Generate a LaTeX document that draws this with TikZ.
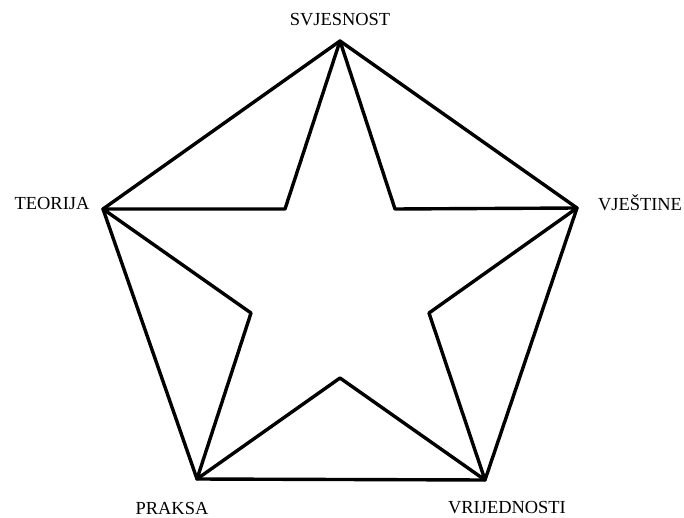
\documentclass[tikz,border=0pt]{standalone}
\usepackage{fontspec}
\setmainfont{Liberation Serif}
\begin{document}
\begin{tikzpicture}[x=1bp,y=-1bp,
  edge/.style={line width=3.4bp,line join=round,line cap=round},
  lbl/.style={font=\fontsize{18.5}{20}\selectfont,inner sep=0pt}]
\useasboundingbox (0,0) rectangle (684,518);
\coordinate (T) at (340,41);
\coordinate (R) at (577,208);
\coordinate (BR) at (485,480);
\coordinate (BL) at (197,479);
\coordinate (L) at (103,209);
\coordinate (iTL) at (285,209);
\coordinate (iTR) at (395,209);
\coordinate (iL) at (251,313);
\coordinate (iR) at (429,313);
\coordinate (iB) at (340,378);
\draw[edge] (T) -- (R) -- (BR) -- (BL) -- (L) -- cycle;
\draw[edge] (T) -- (iTL) -- (L) -- (iL) -- (BL) -- (iB) -- (BR) -- (iR) -- (R) -- (iTR) -- cycle;
\node[lbl] (sv) at (340,20) {SVJESNOST};
\node[lbl] (te) at (52,203) {TEORIJA};
\node[lbl] (vj) at (640,203) {VJEŠTINE};
\node[lbl] (pr) at (172,508) {PRAKSA};
\node[lbl] (vr) at (507,508) {VRIJEDNOSTI};
\end{tikzpicture}
\end{document}
